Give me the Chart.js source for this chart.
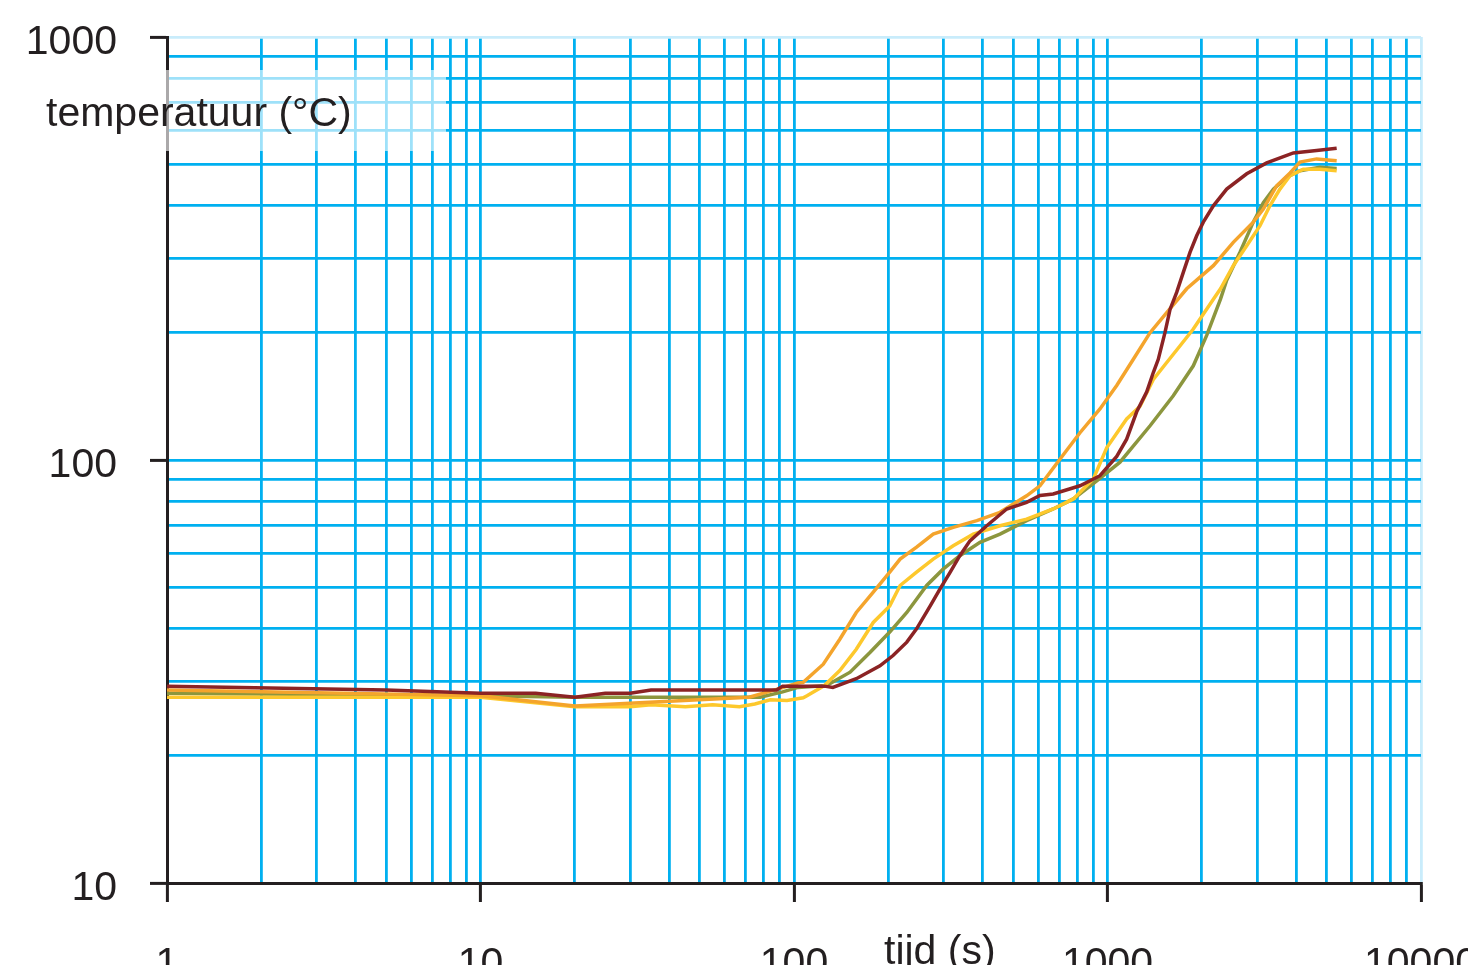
<!DOCTYPE html>
<html>
<head>
<meta charset="utf-8">
<script src="https://cdn.jsdelivr.net/npm/chart.js@4.4.0/dist/chart.umd.min.js"></script>
<style>
  html, body { margin: 0; padding: 0; background: #fff; overflow: hidden; }
  canvas { display: block; }
</style>
</head>
<body>
<canvas id="chart" width="1468" height="965"></canvas>
<script>
// axis ticks (log-log)
const xDecades = [1, 10, 100, 1000, 10000];
const yDecades = [10, 100, 1000];
const minorSteps = [2, 3, 4, 5, 6, 7, 8, 9];

// measured curves: time (s) and temperature (°C)
const timeRed = [1, 5, 10, 15, 20, 25, 30, 35, 88, 92, 125, 133, 158, 188, 207, 229, 246, 272, 292, 315, 338, 364, 412, 477, 552, 609, 671, 817, 946, 1070, 1151, 1239, 1334, 1400, 1452, 1525, 1583, 1662, 1746, 1834, 1925, 2021, 2176, 2400, 2780, 3219, 3917, 4645, 5383];
const tempRed = [29.2, 28.6, 28.1, 28.1, 27.5, 28.1, 28.1, 28.6, 28.6, 29.2, 29.2, 29.0, 30.4, 32.6, 34.5, 37.1, 39.9, 45.2, 49.5, 54.3, 59.4, 64.4, 69.9, 76.6, 79.4, 82.4, 83.1, 86.9, 91.8, 102, 112, 130, 145, 161, 173, 200, 227, 249, 278, 310, 339, 365, 399, 437, 475, 504, 532, 539, 546];

const timeOrange = [1, 10, 20, 40, 72, 88, 103, 107, 124, 140, 158, 179, 202, 218, 246, 278, 322, 383, 454, 552, 609, 705, 817, 946, 1070, 1209, 1367, 1545, 1789, 2176, 2519, 2917, 3141, 3465, 3821, 4111, 4645, 5383];
const tempOrange = [28.6, 27.7, 26.2, 26.9, 27.5, 28.7, 29.7, 29.8, 32.9, 37.7, 43.6, 48.7, 54.3, 58.3, 62.2, 66.8, 69.3, 71.9, 75.2, 82.3, 86.9, 100.4, 116, 132, 150, 173, 200, 223, 254, 288, 327, 365, 392, 445, 477, 506, 515, 510];

const timeYellow = [1, 10, 20, 30, 35, 45, 55, 67, 75, 84, 95, 107, 110, 125, 140, 158, 179, 202, 218, 246, 278, 322, 373, 454, 552, 671, 778, 901, 995, 1151, 1270, 1400, 1545, 1702, 1878, 2176, 2293, 2519, 2780, 3065, 3296, 3548, 3821, 4213, 4762, 5383];
const tempYellow = [27.5, 27.5, 26.1, 26.1, 26.4, 26.1, 26.4, 26.1, 26.5, 27.1, 27.0, 27.4, 27.7, 29.3, 31.8, 35.7, 41.3, 45.2, 50.5, 54.3, 58.3, 62.7, 66.8, 69.9, 72.5, 76.6, 80.9, 90.2, 107, 125, 134, 155, 170, 186, 204, 240, 254, 288, 321, 358, 399, 437, 470, 487, 487, 483];

const timeOlive = [1, 10, 20, 78, 92, 103, 127, 151, 175, 202, 229, 265, 299, 338, 392, 454, 552, 671, 778, 924, 1096, 1367, 1621, 1878, 2072, 2293, 2400, 2646, 2917, 3141, 3381, 3729, 4111, 4762, 5383];
const tempOlive = [28.1, 27.7, 27.5, 27.5, 28.3, 29.0, 29.3, 31.5, 35.1, 39.2, 43.6, 50.5, 55.2, 59.4, 63.9, 66.8, 71.9, 76.6, 80.9, 89.3, 98.8, 120.5, 141.9, 167, 197, 240, 266, 310, 365, 406, 437, 466, 483, 492, 489];

const ink = '#231f20';
const gridBlue = '#00b0f0';
const gridPale = '#c9ecfb';
const font = { family: '"Liberation Sans", Arial, sans-serif', size: 41 };

// full tick lists: decades plus 2..9 in between
const xTicks = [];
xDecades.forEach((d, i) => {
    xTicks.push(d);
    if (i < xDecades.length - 1) minorSteps.forEach(m => xTicks.push(d * m));
});
const yTicks = [];
yDecades.forEach((d, i) => {
    yTicks.push(d);
    if (i < yDecades.length - 1) minorSteps.forEach(m => yTicks.push(d * m));
});

function pts(times, temps) {
    return times.map((t, i) => ({ x: t, y: temps[i] }));
}

// axis titles + translucent box behind the y title
const titlePlugin = {
    id: 'axisTitles',
    afterDraw(chart) {
        const c = chart.ctx;
        c.save();
        c.fillStyle = 'rgba(255,255,255,0.62)';
        c.fillRect(46, 70, 400, 81);
        c.fillStyle = ink;
        c.font = '41px "Liberation Sans", Arial, sans-serif';
        c.textBaseline = 'alphabetic';
        c.fillText('temperatuur (°C)', 46, 126);
        c.fillText('tijd (s)', 884, 964);
        c.restore();
    }
};

const ctx = document.getElementById('chart').getContext('2d');
new Chart(ctx, {
    type: 'line',
    data: {
        datasets: [
            { data: pts(timeRed, tempRed), borderColor: '#8b2324', borderWidth: 3.5 },
            { data: pts(timeOrange, tempOrange), borderColor: '#f4a42c', borderWidth: 3.5 },
            { data: pts(timeYellow, tempYellow), borderColor: '#fdc82c', borderWidth: 3.5 },
            { data: pts(timeOlive, tempOlive), borderColor: '#8c963e', borderWidth: 3.5 }
        ]
    },
    options: {
        responsive: false,
        animation: false,
        layout: { padding: { top: 37, right: 47, left: 0, bottom: 0 } },
        plugins: { legend: { display: false }, tooltip: { enabled: false } },
        elements: {
            point: { radius: 0 },
            line: { tension: 0, fill: false }
        },
        scales: {
            x: {
                type: 'logarithmic',
                min: 1,
                max: 10000,
                afterBuildTicks: s => { s.ticks = xTicks.map(v => ({ value: v })); },
                afterFit: s => { s.height = 82; s.paddingLeft = 0; s.paddingRight = 0; },
                ticks: {
                    autoSkip: false,
                    maxRotation: 0,
                    padding: 38,
                    color: ink,
                    font: font,
                    callback: v => xDecades.includes(v) ? String(v) : ''
                },
                grid: {
                    color: c => c.tick && c.tick.value === 10000 ? gridPale : gridBlue,
                    lineWidth: 2.8,
                    tickLength: 19,
                    tickWidth: 3,
                    tickColor: c => c.tick && xDecades.includes(c.tick.value) ? ink : 'transparent'
                },
                border: { color: ink, width: 3 }
            },
            y: {
                type: 'logarithmic',
                min: 10,
                max: 1000,
                afterBuildTicks: s => { s.ticks = yTicks.map(v => ({ value: v })); },
                afterFit: s => { s.width = 167; s.paddingTop = 0; s.paddingBottom = 0; },
                ticks: {
                    autoSkip: false,
                    padding: 33,
                    labelOffset: 6,
                    color: ink,
                    font: font,
                    callback: v => yDecades.includes(v) ? String(v) : ''
                },
                grid: {
                    color: c => c.tick && c.tick.value === 1000 ? gridPale : gridBlue,
                    lineWidth: 2.8,
                    tickLength: 17,
                    tickWidth: 3,
                    tickColor: c => c.tick && yDecades.includes(c.tick.value) ? ink : 'transparent'
                },
                border: { color: ink, width: 3 }
            }
        }
    },
    plugins: [titlePlugin]
});
</script>
</body>
</html>
